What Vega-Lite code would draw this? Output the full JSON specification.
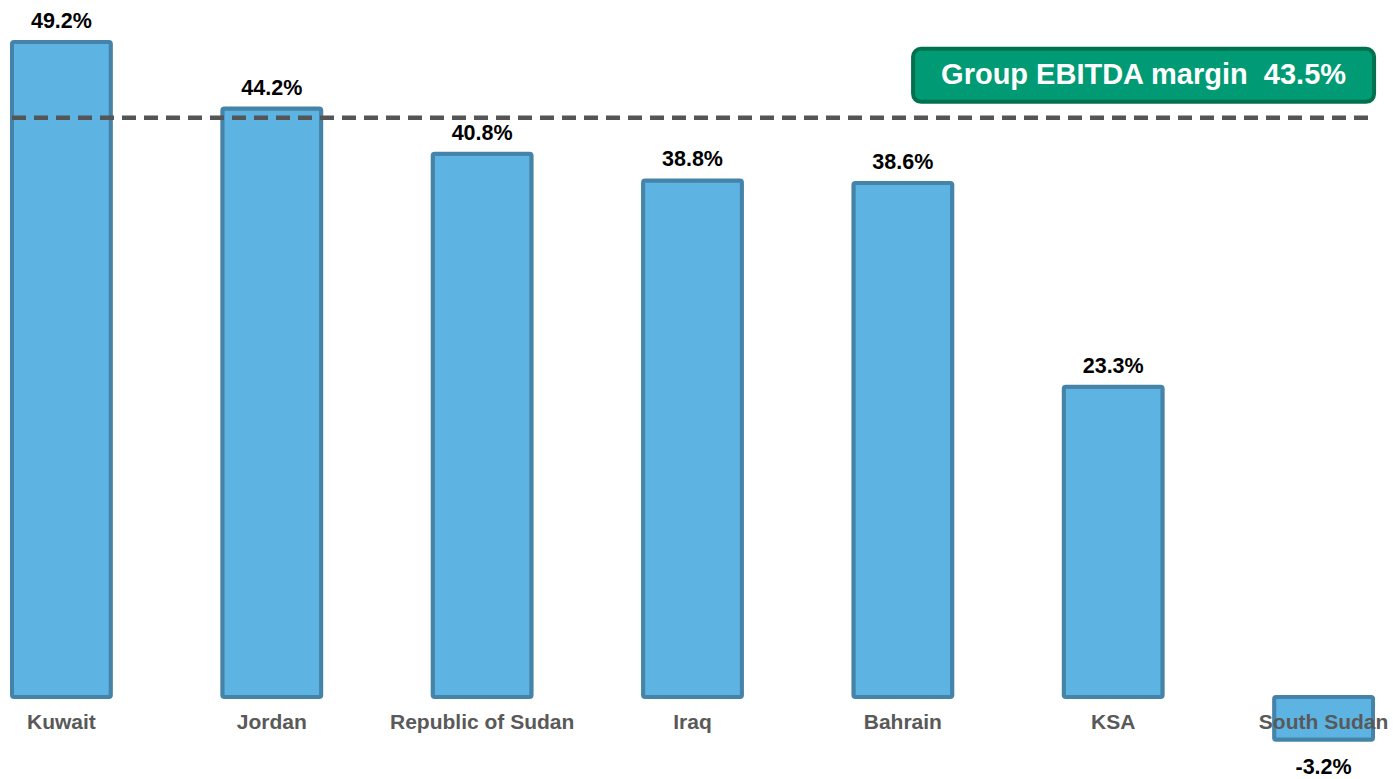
{
  "$schema": "https://vega.github.io/schema/vega-lite/v6.json",
  "width": 1385,
  "height": 779,
  "padding": {"left": 0, "top": 0, "right": 10, "bottom": 0},
  "autosize": {"type": "none"},
  "background": "white",
  "config": {"view": {"stroke": null}, "font": "Liberation Sans"},
  "datasets": {
    "bars": [
      {"country": "Kuwait", "margin": 49.2, "label": "49.2%"},
      {"country": "Jordan", "margin": 44.2, "label": "44.2%"},
      {"country": "Republic of Sudan", "margin": 40.8, "label": "40.8%"},
      {"country": "Iraq", "margin": 38.8, "label": "38.8%"},
      {"country": "Bahrain", "margin": 38.6, "label": "38.6%"},
      {"country": "KSA", "margin": 23.3, "label": "23.3%"},
      {"country": "South Sudan", "margin": -3.2, "label": "-3.2%"}
    ],
    "group": [
      {"name": "Group EBITDA margin", "margin": 43.5, "label": "Group EBITDA margin\u00a0 43.5%", "country": "South Sudan", "first": "Kuwait"}
    ]
  },
  "encoding": {
    "x": {
      "field": "country",
      "type": "nominal",
      "sort": null,
      "scale": {"paddingInner": 0.53, "paddingOuter": 0.057},
      "axis": null
    }
  },
  "layer": [
    {
      "data": {"name": "bars"},
      "mark": {"type": "bar", "fill": "#5DB4E3", "stroke": "#4584A8", "strokeWidth": 4, "cornerRadius": 2},
      "encoding": {
        "y": {
          "field": "margin",
          "type": "quantitative",
          "scale": {"domain": [-6.15, 52.35], "nice": false, "zero": false},
          "axis": null
        }
      }
    },
    {
      "data": {"name": "group"},
      "mark": {"type": "rule", "stroke": "#555555", "strokeWidth": 4.5, "strokeDash": [14, 8], "x2Offset": 49},
      "encoding": {
        "x": {"field": "first", "type": "nominal", "bandPosition": 0},
        "x2": {"field": "country"},
        "y": {"field": "margin", "type": "quantitative"}
      }
    },
    {
      "data": {"name": "bars"},
      "transform": [{"filter": "datum.margin >= 0"}],
      "mark": {"type": "text", "baseline": "bottom", "dy": -9, "fontSize": 21.5, "fontWeight": "bold", "fill": "#000000"},
      "encoding": {
        "y": {"field": "margin", "type": "quantitative"},
        "text": {"field": "label"}
      }
    },
    {
      "data": {"name": "bars"},
      "transform": [{"filter": "datum.margin < 0"}],
      "mark": {"type": "text", "baseline": "top", "dy": 17, "fontSize": 21.5, "fontWeight": "bold", "fill": "#000000"},
      "encoding": {
        "y": {"field": "margin", "type": "quantitative"},
        "text": {"field": "label"}
      }
    },
    {
      "data": {"name": "bars"},
      "mark": {"type": "text", "baseline": "top", "dy": 15, "fontSize": 21, "fontWeight": "bold", "fill": "#595959"},
      "encoding": {
        "y": {"datum": 0},
        "text": {"field": "country"}
      }
    },
    {
      "data": {"name": "group"},
      "mark": {"type": "bar", "fill": "#009A74", "stroke": "#00714F", "strokeWidth": 4, "cornerRadius": 8, "width": 461, "xOffset": -180, "yOffset": -69, "y2Offset": -16},
      "encoding": {
        "y": {"field": "margin", "type": "quantitative"},
        "y2": {"field": "margin"}
      }
    },
    {
      "data": {"name": "group"},
      "mark": {"type": "text", "baseline": "middle", "align": "center", "fontSize": 29, "fontWeight": "bold", "fill": "#FFFFFF", "xOffset": -180, "yOffset": -43},
      "encoding": {
        "y": {"field": "margin", "type": "quantitative"},
        "text": {"field": "label"}
      }
    }
  ]
}
